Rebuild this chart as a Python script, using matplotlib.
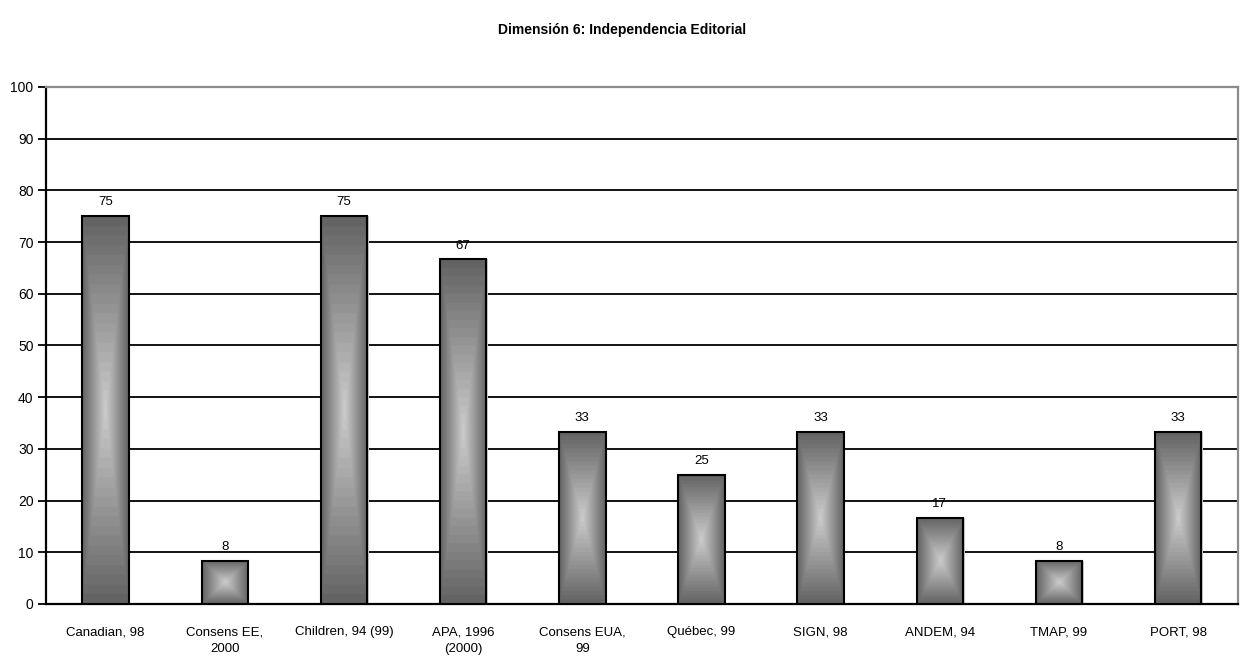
import numpy as np
import matplotlib
matplotlib.use("Agg")
import matplotlib.pyplot as plt
from matplotlib.patches import Rectangle

plt.rcParams['font.family'] = ['Liberation Sans', 'DejaVu Sans']

categories = ["Canadian, 98", "Consens EE,\n2000", "Children, 94 (99)", "APA, 1996\n(2000)",
              "Consens EUA,\n99", "Québec, 99", "SIGN, 98", "ANDEM, 94", "TMAP, 99", "PORT, 98"]
values = [75, 8.33, 75, 66.67, 33.33, 25, 33.33, 16.67, 8.33, 33.33]
yticks = list(range(0, 101, 10))
title = "Dimensión 6: Independencia Editorial"

fig = plt.figure(figsize=(12.44, 6.59), dpi=100)
ax = fig.add_axes([0.037, 0.0835, 0.958, 0.7845])

ax.set_xlim(-0.5, len(categories) - 0.5)
ax.set_ylim(0, 100)
ax.set_yticks(yticks)
ax.set_xticks(range(len(categories)))
ax.set_xticklabels(categories, fontsize=9.5, linespacing=1.5)
ax.tick_params(axis='x', length=0, pad=16)
ax.tick_params(axis='y', length=6, width=1.3, pad=3, labelsize=10)

for y in yticks[1:-1]:
    ax.axhline(y, color='black', lw=1.3, zorder=1)

for s in ['left', 'bottom']:
    ax.spines[s].set_color('black')
    ax.spines[s].set_linewidth(1.6)
for s in ['top', 'right']:
    ax.spines[s].set_color('#8c8c8c')
    ax.spines[s].set_linewidth(1.6)

# rectangular gradient: light centre, darker toward every edge
n = 300
u = np.abs(np.linspace(-1, 1, n))
d = np.maximum(u[None, :], u[:, None])
d = np.floor(d * 20) / 20
light, dark = 0.79, 0.37
shade = light + (dark - light) * d
img = np.dstack([shade, shade, shade])

width = 0.39
for i, v in enumerate(values):
    x0 = i - width / 2
    # soft shadow on the right
    ax.add_patch(Rectangle((x0 + 0.012, 0), width, v, facecolor='#c8c8c8',
                           edgecolor='none', zorder=2))
    im = ax.imshow(img, extent=(x0, x0 + width, 0, v), aspect='auto',
                   interpolation='bilinear', zorder=3)
    rect = Rectangle((x0, 0), width, v, facecolor='none', edgecolor='black',
                     lw=1.5, zorder=4)
    ax.add_patch(rect)
    im.set_clip_path(rect)
    ax.text(i, v + 1.5, f"{v:.0f}", ha='center', va='bottom', fontsize=9.5, zorder=5)

ax.set_xlim(-0.5, len(categories) - 0.5)
ax.set_ylim(0, 100)

fig.text(0.5, 0.955, title, ha='center', va='center', fontsize=10, fontweight='bold')

fig.savefig("out.png", dpi=100)
